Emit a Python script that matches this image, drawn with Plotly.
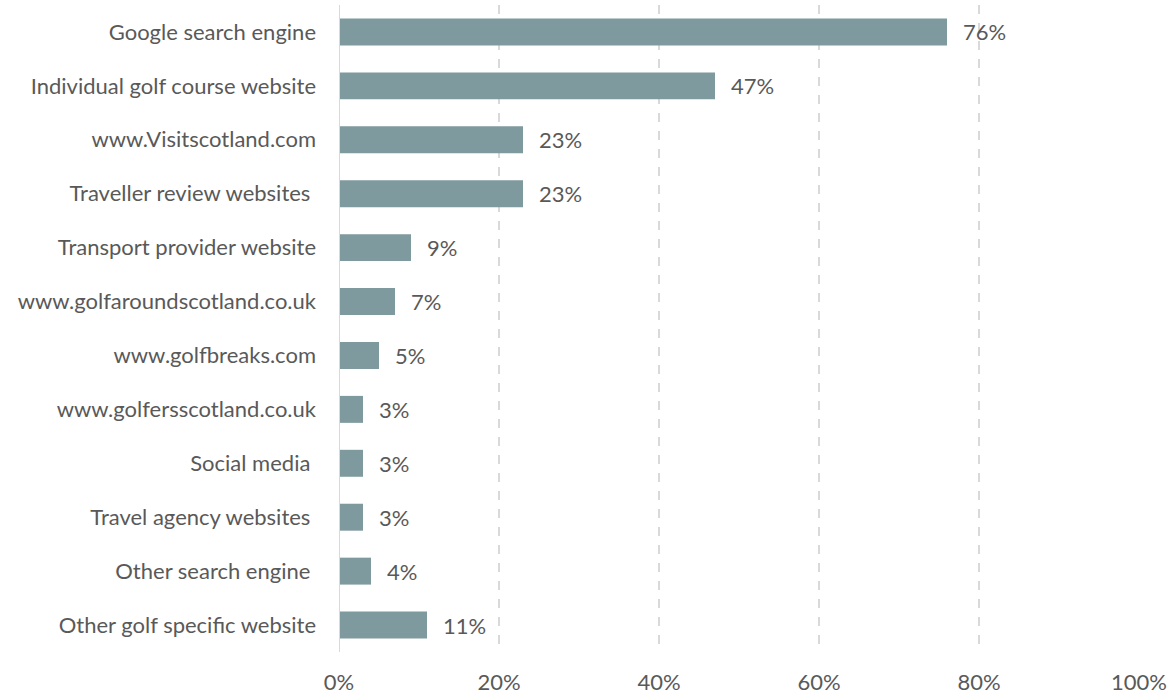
import plotly.graph_objects as go

categories = [
    "Google search engine",
    "Individual golf course website",
    "www.Visitscotland.com",
    "Traveller review websites\u00a0",
    "Transport provider website",
    "www.golfaroundscotland.co.uk",
    "www.golfbreaks.com",
    "www.golfersscotland.co.uk",
    "Social media\u00a0",
    "Travel agency websites\u00a0",
    "Other search engine\u00a0",
    "Other golf specific website",
]
values = [76, 47, 23, 23, 9, 7, 5, 3, 3, 3, 4, 11]
x_ticks = [0, 20, 40, 60, 80, 100]
x_tick_labels = ["0%", "20%", "40%", "60%", "80%", "100%"]

FONT = "Lato"
TXT = "#595959"
FS = 22

fig = go.Figure()
fig.add_trace(go.Bar(
    x=values, y=categories, orientation="h",
    marker=dict(color="#7f9a9e", line=dict(width=0)),
    hoverinfo="skip",
))
for c, v in zip(categories, values):
    fig.add_annotation(x=v, y=c, text=f"{v}%", showarrow=False,
                       xanchor="left", xshift=14,
                       font=dict(family=FONT, size=FS, color=TXT))

fig.update_layout(
    width=1175, height=695,
    margin=dict(l=339, r=36, t=5, b=43),
    plot_bgcolor="white", paper_bgcolor="white",
    bargap=0.5, showlegend=False,
    font=dict(family=FONT, size=FS, color=TXT),
)
fig.update_xaxes(range=[0, 100], tickvals=x_ticks, ticktext=x_tick_labels,
                 showgrid=True, gridcolor="#d9d9d9", griddash="dash", gridwidth=1.5,
                 zeroline=False, showline=False, ticks="", automargin=False,
                 ticklabelstandoff=15)
fig.update_yaxes(categoryorder="array", categoryarray=categories[::-1],
                 showgrid=False, zeroline=False, showline=False, ticks="",
                 automargin=False, ticklabelstandoff=22)
fig.add_shape(type="line", xref="x", yref="paper", x0=0, x1=0, y0=0, y1=1,
              line=dict(color="#d9d9d9", width=2), layer="above")
fig.write_html("out.html", config={"displayModeBar": False},
               post_script="document.body.style.margin='0';document.body.style.padding='0';")
